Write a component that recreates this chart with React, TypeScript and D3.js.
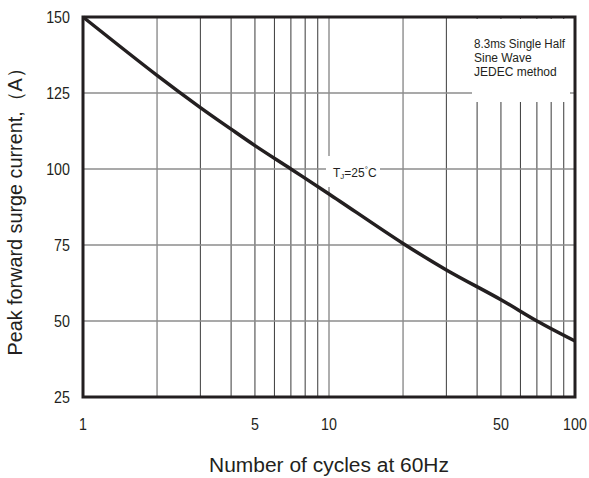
import * as d3 from "d3";

const cycles = [1, 2, 3, 4, 5, 7, 10, 20, 30, 50, 70, 100];
const current = [150, 130.8, 120.2, 113.1, 107.7, 100, 91.8, 75.5, 66.8, 57, 50, 43.4];

const xTicks = [1, 5, 10, 50, 100];
const yTicks = [25, 50, 75, 100, 125, 150];
const xGrid = [2, 3, 4, 5, 6, 7, 8, 9, 10, 20, 30, 40, 50, 60, 70, 80, 90];
const yGrid = [50, 75, 100, 125];
const grayGrid = [2, 10, 20];

const noteLines = ["8.3ms Single Half", "Sine Wave", "JEDEC method"];

const W = 589;
const H = 478;
const margin = { top: 17, right: 14, bottom: 81, left: 83 };
const font = "'Liberation Sans', Arial, sans-serif";

export default function App() {
  const x = d3.scaleLog().domain([1, 100]).range([margin.left, W - margin.right]);
  const y = d3.scaleLinear().domain([25, 150]).range([H - margin.bottom, margin.top]);

  const line = d3.line<number>()
    .x((_, i) => x(cycles[i]))
    .y(d => y(d))
    .curve(d3.curveCatmullRom.alpha(0.5));

  const x0 = x(1), x1 = x(100), y0 = y(25), y1 = y(150);
  const midY = (y0 + y1) / 2;

  return (
    <svg width={W} height={H} style={{ position: "absolute", left: 0, top: 0, background: "#fff" }}>
      {/* grid */}
      {xGrid.map(v => (
        <line key={"gx" + v} x1={x(v)} x2={x(v)} y1={y1} y2={y0}
          stroke={grayGrid.includes(v) ? "#8c8c8c" : "#3a3a3a"} strokeWidth={grayGrid.includes(v) ? 1.4 : 1} />
      ))}
      {yGrid.map(v => (
        <line key={"gy" + v} x1={x0} x2={x1} y1={y(v)} y2={y(v)}
          stroke="#8c8c8c" strokeWidth={1.4} />
      ))}

      {/* note box */}
      <rect x={472} y={y1 + 2} width={98} height={83} fill="#fff" />
      {noteLines.map((t, i) => (
        <text key={t} x={474} y={48 + i * 14} fontSize={12} fontFamily={font} fill="#231f20"
          textLength={i === 0 ? 91 : undefined} lengthAdjust="spacingAndGlyphs">{t}</text>
      ))}

      {/* Tj label */}
      <rect x={326} y={156} width={54} height={31} fill="#fff" />
      <text x={333} y={177} fontSize={12} fontFamily={font} fill="#231f20">
        T<tspan fontSize={8} dy={2}>J</tspan><tspan dy={-2}>=25</tspan><tspan fontSize={8} dy={-5}>°</tspan><tspan dy={5}>C</tspan>
      </text>

      {/* curve */}
      <path d={line(current) ?? ""} fill="none" stroke="#231f20" strokeWidth={3.5} strokeLinejoin="round" />

      {/* frame */}
      <rect x={x0} y={y1} width={x1 - x0} height={y0 - y1} fill="none" stroke="#231f20" strokeWidth={3} />

      {/* ticks */}
      {yTicks.map(v => (
        <text key={"yt" + v} x={70} y={y(v) + 6} textAnchor="end" fontSize={17} fontFamily={font} fill="#231f20"
          transform={`translate(70,0) scale(0.84,1) translate(-70,0)`}>{v}</text>
      ))}
      {xTicks.map(v => (
        <text key={"xt" + v} x={x(v)} y={430} textAnchor="middle" fontSize={17} fontFamily={font} fill="#231f20"
          transform={`translate(${x(v)},0) scale(0.84,1) translate(${-x(v)},0)`}>{v}</text>
      ))}

      {/* axis titles */}
      <text x={(x0 + x1) / 2} y={472} textAnchor="middle" fontSize={20} fontFamily={font} fill="#231f20"
        textLength={240} lengthAdjust="spacingAndGlyphs">
        Number of cycles at 60Hz
      </text>
      <text transform={`translate(22,${midY}) rotate(-90)`} textAnchor="middle" fontSize={20} fontFamily={font} fill="#231f20"
        textLength={297} lengthAdjust="spacingAndGlyphs">
        Peak forward surge current,（A）
      </text>
    </svg>
  );
}
